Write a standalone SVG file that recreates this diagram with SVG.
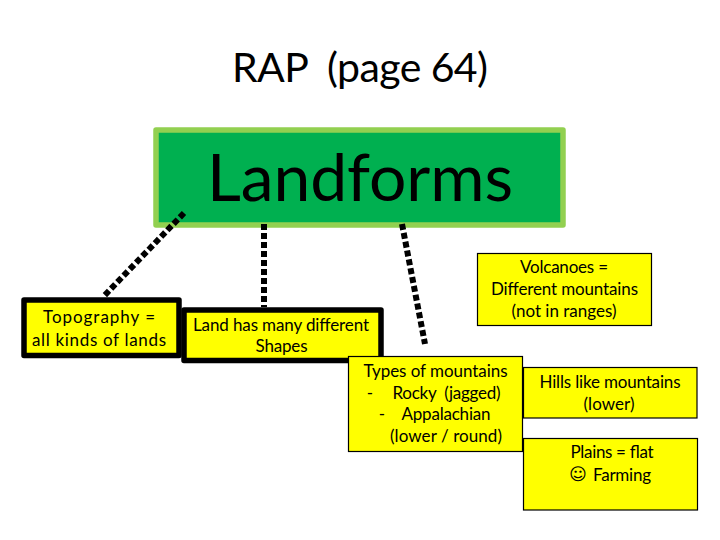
<svg xmlns="http://www.w3.org/2000/svg" width="720" height="540" viewBox="0 0 720 540">
<style>
text{font-family:"Lato","Carlito","Liberation Sans",sans-serif;fill:#000;text-anchor:middle}
.t{font-size:17px}
.thick{fill:#ffff00;stroke:#000;stroke-width:5.5;stroke-linejoin:round}
.thin{fill:#ffff00;stroke:#000;stroke-width:1.2}
.dash{fill:none;stroke:#000;stroke-width:6;stroke-dasharray:6 3}
</style>
<rect width="720" height="540" fill="#fff"/>
<g id="title"><text x="360" y="82" font-size="41" textLength="256" xml:space="preserve">RAP  (page 64)</text></g>
<g id="landforms">
<rect x="156" y="130" width="407" height="95" fill="#00b050" stroke="#92d050" stroke-width="5.5" stroke-linejoin="round"/>
<text x="360" y="201" font-size="66" textLength="306">Landforms</text>
</g>
<g id="topography">
<rect class="thick" x="24" y="300" width="155" height="55.500"/>
<text class="t" x="99" y="323" textLength="112">Topography =</text>
<text class="t" x="99" y="346" textLength="134">all kinds of lands</text>
</g>
<g id="land-shapes">
<rect class="thick" x="184" y="310" width="197" height="50.500"/>
<text class="t" x="281" y="331" textLength="176">Land has many different</text>
<text class="t" x="281.500" y="352" textLength="52">Shapes</text>
</g>
<g id="volcanoes">
<rect class="thin" x="477.500" y="253.500" width="174" height="72"/>
<text class="t" x="564" y="273" textLength="88">Volcanoes =</text>
<text class="t" x="564.500" y="295" textLength="147">Different mountains</text>
<text class="t" x="564" y="317" textLength="105">(not in ranges)</text>
</g>
<g id="hills">
<rect class="thin" x="523.500" y="367.500" width="173.500" height="50.500"/>
<text class="t" x="610" y="388" textLength="141">Hills like mountains</text>
<text class="t" x="609" y="410" textLength="51">(lower)</text>
</g>
<g id="plains">
<rect class="thin" x="523.500" y="438.500" width="174" height="71.500"/>
<text class="t" x="612" y="458" textLength="83">Plains = flat</text>
<text x="578" y="480" font-size="17" style="font-family:'DejaVu Sans',sans-serif">☺</text>
<text class="t" x="622" y="481" textLength="58">Farming</text>
</g>
<g id="mountains">
<rect class="thin" x="348.500" y="356.500" width="174" height="95"/>
<text class="t" x="435.500" y="377" textLength="144">Types of mountains</text>
<text class="t" x="370" y="399">-</text>
<text class="t" x="446.500" y="399" textLength="108" xml:space="preserve">Rocky  (jagged)</text>
<text class="t" x="382" y="420">-</text>
<text class="t" x="446" y="420" textLength="89">Appalachian</text>
<text class="t" x="446" y="442" textLength="112">(lower / round)</text>
</g>
<g id="connectors">
<path class="dash" d="M184 213L103 297"/>
<path class="dash" d="M264 224V307"/>
<path class="dash" d="M402 224L425 344"/>
</g>
</svg>
